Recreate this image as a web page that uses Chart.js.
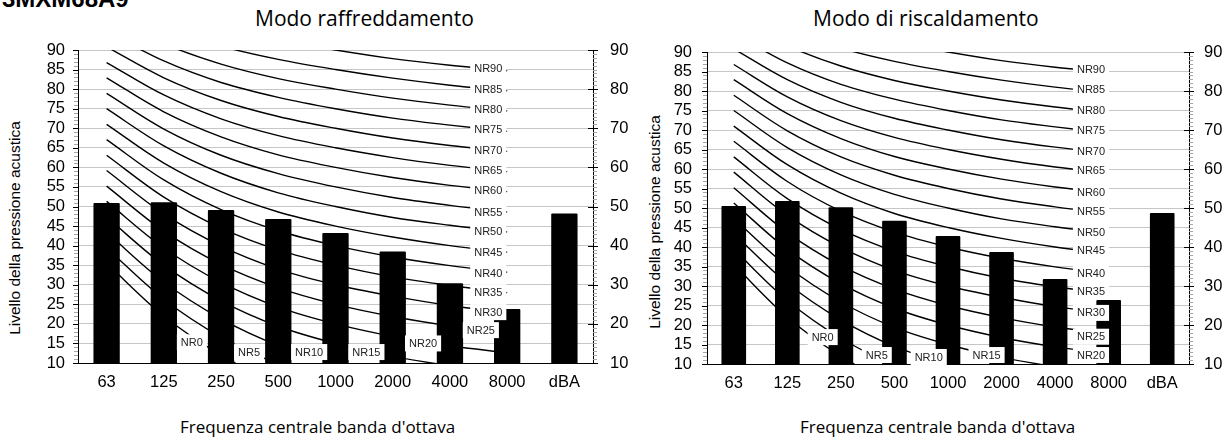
<!DOCTYPE html>
<html>
<head>
<meta charset="utf-8">
<script src="https://cdn.jsdelivr.net/npm/chart.js@4.4.0/dist/chart.umd.min.js"></script>
<style>
html,body{margin:0;padding:0;background:#fff;width:1225px;height:439px;overflow:hidden;}
body{position:relative;}
canvas{position:absolute;top:0;}
.txt{position:absolute;white-space:nowrap;color:#000;}
.ytitle{position:absolute;width:260px;text-align:center;white-space:nowrap;color:#000;transform:rotate(-90deg);transform-origin:50% 50%;}
</style>
</head>
<body>
<div class="txt" style="left:2px;top:-13px;font:bold 24px 'Liberation Sans',Arial,sans-serif;line-height:24px;">3MXM68A9</div>
<div class="txt" style="left:255px;top:8px;font:21px 'Open Sans',sans-serif;line-height:21px;">Modo raffreddamento</div>
<div class="txt" style="left:813px;top:8px;font:21px 'Open Sans',sans-serif;line-height:21px;">Modo di riscaldamento</div>
<div class="txt" style="left:180px;top:418px;font:17px 'Open Sans',sans-serif;line-height:17px;">Frequenza centrale banda d'ottava</div>
<div class="txt" style="left:800px;top:418px;font:17px 'Open Sans',sans-serif;line-height:17px;">Frequenza centrale banda d'ottava</div>
<div class="ytitle" style="left:-115px;top:219px;font:15.5px 'Liberation Sans',Arial,sans-serif;line-height:18px;">Livello della pressione acustica</div>
<div class="ytitle" style="left:525px;top:213px;font:15.5px 'Liberation Sans',Arial,sans-serif;line-height:18px;">Livello della pressione acustica</div>
<canvas id="c1" width="640" height="439" style="left:0px"></canvas>
<canvas id="c2" width="585" height="439" style="left:640px"></canvas>
<script>
// ---- data ----
const categories = ['63','125','250','500','1000','2000','4000','8000','dBA'];
const coolingLevels = [50.9, 51.1, 49.1, 46.8, 43.2, 38.5, 30.4, 23.8, 48.2];
const heatingLevels = [50.5, 51.8, 50.2, 46.7, 42.8, 38.7, 31.8, 26.4, 48.7];
const yTicksLeft = [10,15,20,25,30,35,40,45,50,55,60,65,70,75,80,85,90];
const yTicksRight = [10,20,30,40,50,60,70,80,90];

// NR curves, octave bands 63 .. 8000 Hz
const NR0  = [35.5, 22.0, 12.0,  4.8,  0.0, -3.5, -6.1, -8.0];
const NR5  = [39.4, 26.3, 16.6,  9.7,  5.0,  1.6, -1.0, -2.8];
const NR10 = [43.4, 30.7, 21.3, 14.5, 10.0,  6.6,  4.2,  2.3];
const NR15 = [47.3, 35.0, 25.9, 19.4, 15.0, 11.7,  9.3,  7.4];
const NR20 = [51.3, 39.4, 30.6, 24.3, 20.0, 16.8, 14.4, 12.6];
const NR25 = [55.2, 43.7, 35.2, 29.2, 25.0, 21.9, 19.5, 17.7];
const NR30 = [59.2, 48.1, 39.9, 34.0, 30.0, 27.1, 24.7, 22.9];
const NR35 = [63.1, 52.4, 44.5, 38.9, 35.0, 32.0, 29.8, 28.0];
const NR40 = [67.1, 56.8, 49.2, 43.8, 40.0, 37.1, 34.9, 33.2];
const NR45 = [71.0, 61.1, 53.8, 48.6, 45.0, 42.2, 40.0, 38.3];
const NR50 = [75.0, 65.5, 58.5, 53.5, 50.0, 47.2, 45.2, 43.5];
const NR55 = [78.9, 69.8, 63.1, 58.4, 55.0, 52.3, 50.3, 48.6];
const NR60 = [82.9, 74.2, 67.8, 63.2, 60.0, 57.4, 55.4, 53.8];
const NR65 = [86.8, 78.5, 72.4, 68.1, 65.0, 62.5, 60.5, 58.9];
const NR70 = [90.8, 82.9, 77.1, 73.0, 70.0, 67.5, 65.6, 64.1];
const NR75 = [94.7, 87.2, 81.7, 77.9, 75.0, 72.6, 70.8, 69.2];
const NR80 = [98.7, 91.6, 86.4, 82.7, 80.0, 77.7, 75.9, 74.4];
const NR85 = [102.6, 95.9, 91.0, 87.6, 85.0, 82.8, 81.0, 79.6];
const NR90 = [106.6, 100.3, 95.7, 92.5, 90.0, 87.8, 86.1, 84.7];
const nrCurves = [NR0,NR5,NR10,NR15,NR20,NR25,NR30,NR35,NR40,NR45,NR50,NR55,NR60,NR65,NR70,NR75,NR80,NR85,NR90];
const nrNames = ['NR0','NR5','NR10','NR15','NR20','NR25','NR30','NR35','NR40','NR45','NR50','NR55','NR60','NR65','NR70','NR75','NR80','NR85','NR90'];

// label anchors (category index, level)
const coolingLabelCat = [1.49, 2.49, 3.54, 4.54, 5.53, 6.54, 6.67, 6.67, 6.67, 6.67, 6.67, 6.67, 6.67, 6.67, 6.67, 6.67, 6.67, 6.67, 6.67];
const coolingLabelVal = [15.3, 12.8, 12.8, 12.8, 15.0, 18.4, 23.0, 28.1, 33.0, 38.3, 43.7, 48.6, 54.0, 59.3, 64.4, 69.8, 74.7, 79.8, 85.4];
const heatingLabelCat = [1.66, 2.67, 3.64, 4.72, 6.67, 6.67, 6.67, 6.67, 6.67, 6.67, 6.67, 6.67, 6.67, 6.67, 6.67, 6.67, 6.67, 6.67, 6.67];
const heatingLabelVal = [16.9, 12.3, 11.8, 12.3, 12.3, 17.0, 23.1, 28.5, 33.3, 39.0, 43.8, 49.0, 54.1, 59.5, 64.6, 70.0, 75.1, 80.3, 85.6];

// ---- plugins ----
const axisTicks = {
  id: 'axisTicks',
  afterDraw(chart) {
    const ctx = chart.ctx, a = chart.chartArea, y = chart.scales.y;
    ctx.save();
    ctx.lineWidth = 1;
    for (let v = 10; v <= 90; v++) {
      const py = Math.round(y.getPixelForValue(v)) + 0.5;
      ctx.strokeStyle = '#a8a8a8';
      ctx.beginPath();
      ctx.moveTo(a.left - 4, py); ctx.lineTo(a.left, py);
      ctx.moveTo(a.right, py); ctx.lineTo(a.right + 4, py);
      ctx.stroke();
    }
    ctx.strokeStyle = '#000';
    ctx.beginPath();
    yTicksLeft.forEach(v => {
      const py = Math.round(y.getPixelForValue(v)) + 0.5;
      ctx.moveTo(a.left - 5, py); ctx.lineTo(a.left, py);
    });
    yTicksRight.forEach(v => {
      const py = Math.round(y.getPixelForValue(v)) + 0.5;
      ctx.moveTo(a.right - 5, py); ctx.lineTo(a.right + 5, py);
    });
    ctx.stroke();
    ctx.restore();
  }
};

const nrLabels = {
  id: 'nrLabels',
  afterDatasetsDraw(chart, args, opts) {
    const ctx = chart.ctx, x = chart.scales.x, y = chart.scales.y;
    ctx.save();
    ctx.font = "11px 'Liberation Sans', Arial, sans-serif";
    ctx.textAlign = 'center';
    ctx.textBaseline = 'middle';
    nrNames.forEach((name, i) => {
      const px = x.getPixelForValue(opts.cat[i]);
      const py = y.getPixelForValue(opts.val[i]);
      const w = ctx.measureText(name).width + 8, h = 16;
      ctx.fillStyle = '#fff';
      ctx.fillRect(px - w / 2, py - h / 2, w, h);
      ctx.fillStyle = '#222';
      ctx.fillText(name, px, py + 0.5);
    });
    ctx.restore();
  }
};

function makeChart(id, levels, lblCat, lblVal, d) {
  const datasets = [{
    type: 'bar', data: levels, backgroundColor: '#000',
    barPercentage: 0.46, categoryPercentage: 1, borderRadius: 1
  }];
  nrCurves.forEach(c => datasets.push({
    type: 'line', data: c, borderColor: '#000', borderWidth: 1.4,
    pointRadius: 0, tension: 0.35, fill: false
  }));
  const tickFont = { family: "'Liberation Sans', Arial, sans-serif", size: 16.5 };
  return new Chart(document.getElementById(id), {
    type: 'bar',
    data: { labels: categories, datasets },
    options: {
      responsive: false, animation: false, devicePixelRatio: 1,
      layout: { padding: { top: d.top, left: 0, right: 0, bottom: 0 } },
      plugins: {
        legend: { display: false }, tooltip: { enabled: false }, title: { display: false },
        nrLabels: { cat: lblCat, val: lblVal }
      },
      scales: {
        x: {
          grid: { display: false, drawTicks: false },
          border: { display: true, color: '#000', width: 1 },
          ticks: { font: tickFont, color: '#000', padding: d.xpad, maxRotation: 0, autoSkip: false },
          afterFit(s) { s.height = d.xh; }
        },
        y: {
          position: 'left', min: 10, max: 90,
          afterBuildTicks(s) { s.ticks = yTicksLeft.map(v => ({ value: v })); },
          grid: { color: '#c6c6c6', drawTicks: false },
          border: { display: true, color: '#000', width: 1 },
          ticks: { font: tickFont, color: '#000', padding: d.ylpad, autoSkip: false },
          afterFit(s) { s.width = d.yl; }
        },
        y2: {
          position: 'right', min: 10, max: 90,
          afterBuildTicks(s) { s.ticks = yTicksRight.map(v => ({ value: v })); },
          grid: { drawOnChartArea: false, drawTicks: false },
          border: { display: true, color: '#000', width: 1 },
          ticks: { font: tickFont, color: '#000', padding: d.yrpad, autoSkip: false },
          afterFit(s) { s.width = d.yr; }
        }
      }
    },
    plugins: [axisTicks, nrLabels]
  });
}

makeChart('c1', coolingLevels, coolingLabelCat, coolingLabelVal,
  { top: 50, xh: 76, yl: 78, yr: 47, xpad: 10, ylpad: 13, yrpad: 17 });
makeChart('c2', heatingLevels, heatingLabelCat, heatingLabelVal,
  { top: 52, xh: 75, yl: 67, yr: 36, xpad: 10, ylpad: 15, yrpad: 15 });
</script>
</body>
</html>
